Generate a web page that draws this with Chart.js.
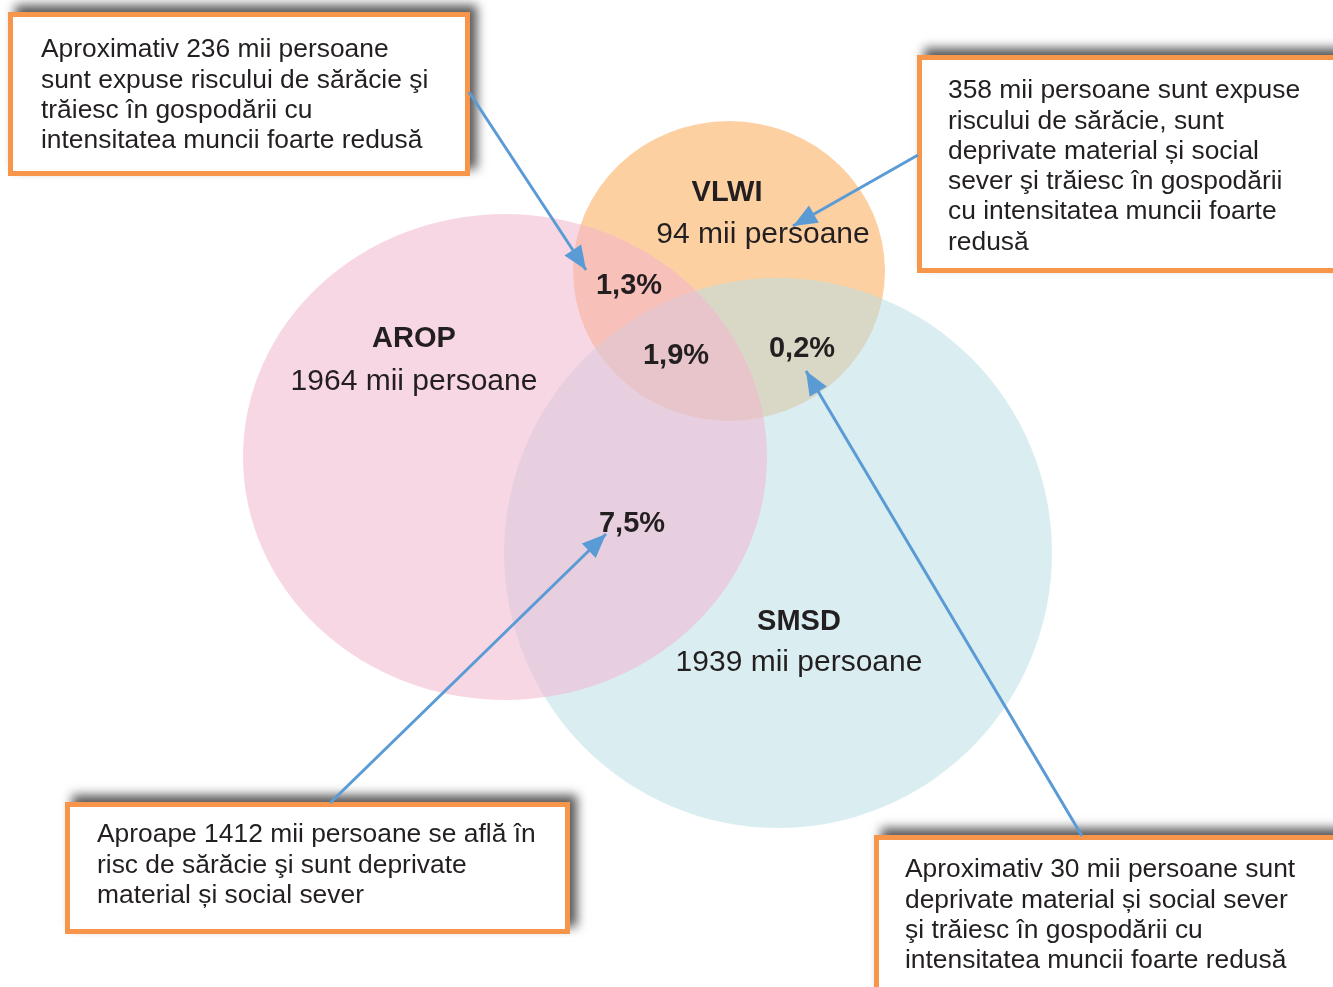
<!DOCTYPE html>
<html>
<head>
<meta charset="utf-8">
<script src="https://cdn.jsdelivr.net/npm/chart.js@4.4.1/dist/chart.umd.min.js"></script>
<style>
    html, body { margin: 0; padding: 0; background: #fff; font-family: "Liberation Sans", Arimo, Arial, sans-serif; }
    #wrap { width: 1333px; height: 987px; }
    .preload { position: absolute; left: -9999px; top: 0; font-family: "Liberation Sans"; }
</style>
</head>
<body>
<span class="preload">Aa <b>Bb</b></span>
<div id="wrap"><canvas id="vennChart" width="1333" height="987"></canvas></div>
<script>
// --- data ---
const setNames = ['AROP', 'VLWI', 'SMSD'];
const setValues = [1964, 94, 1939];            // mii persoane
const overlapNames = ['AROP+VLWI', 'AROP+VLWI+SMSD', 'VLWI+SMSD', 'AROP+SMSD'];
const overlapValues = [1.3, 1.9, 0.2, 7.5];    // %
const calloutTexts = [
    ['Aproximativ 236 mii persoane', 'sunt expuse riscului de sărăcie şi', 'trăiesc în gospodării cu', 'intensitatea muncii foarte redusă'],
    ['358 mii persoane sunt expuse', 'riscului de sărăcie, sunt', 'deprivate material și social', 'sever şi trăiesc în gospodării', 'cu intensitatea muncii foarte', 'redusă'],
    ['Aproape 1412 mii persoane se află în', 'risc de sărăcie şi sunt deprivate', 'material și social sever'],
    ['Aproximativ 30 mii persoane sunt', 'deprivate material și social sever', 'şi trăiesc în gospodării cu', 'intensitatea muncii foarte redusă']
];

// --- layout (page units, drawn through the chart scales) ---
const circles = [
    { cx: 505, cy: 457, rx: 262, ry: 243, color: 'rgba(242,181,207,0.54)' },   // AROP
    { cx: 729, cy: 271, rx: 156, ry: 150, color: '#fdd0a2' },                  // VLWI
    { cx: 778, cy: 553, rx: 274, ry: 275, color: 'rgba(186,224,229,0.54)' }    // SMSD
];
const drawOrder = [1, 2, 0];
const setLabelPos = [[414, 339, 382], [727, 193, 235], [799, 622, 663]];
const setValuePos = [414, 763, 799];
const overlapPos = [[629, 286], [676, 356], [802, 349], [632, 524]];
const boxes = [
    { x: 8, y: 12, w: 462, h: 164, tx: 41, ty: 50 },
    { x: 917, y: 55, w: 450, h: 218, tx: 948, ty: 91 },
    { x: 65, y: 802, w: 505, h: 132, tx: 97, ty: 835 },
    { x: 874, y: 835, w: 480, h: 180, tx: 905, ty: 870 }
];
const arrows = [
    [[469, 92], [586, 270]],
    [[918, 155], [793, 226]],
    [[330, 803], [606, 534]],
    [[1082, 836], [806, 371]]
];

const textColor = '#231f20';
const arrowColor = '#5b9bd5';
const fontFamily = '"Liberation Sans", Arimo, Arial, sans-serif';

function fmtPct(v) {
    return v.toFixed(1).replace('.', ',') + '%';
}

const vennPlugin = {
    id: 'venn',
    beforeDatasetsDraw(chart) {
        const ctx = chart.ctx;
        const xs = chart.scales.x, ys = chart.scales.y;
        const px = v => xs.getPixelForValue(v);
        const py = v => ys.getPixelForValue(v);

        // circles
        drawOrder.forEach(i => {
            const c = circles[i];
            ctx.save();
            ctx.fillStyle = c.color;
            ctx.beginPath();
            ctx.ellipse(px(c.cx), py(c.cy), Math.abs(px(c.cx + c.rx) - px(c.cx)), Math.abs(py(c.cy + c.ry) - py(c.cy)), 0, 0, Math.PI * 2);
            ctx.fill();
            ctx.restore();
        });

        // callout boxes
        boxes.forEach(b => {
            const x = px(b.x), y = py(b.y), w = px(b.x + b.w) - x, h = py(b.y + b.h) - y;
            ctx.save();
            ctx.shadowColor = 'rgba(0,0,0,0.65)';
            ctx.shadowBlur = 10;
            ctx.shadowOffsetX = 7;
            ctx.shadowOffsetY = -7;
            ctx.fillStyle = '#fff';
            ctx.fillRect(x, y, w, h);
            ctx.restore();
            ctx.save();
            ctx.strokeStyle = '#f7964a';
            ctx.lineWidth = 5;
            ctx.strokeRect(x + 2.5, y + 2.5, w - 5, h - 5);
            ctx.restore();
        });
    },
    afterDatasetsDraw(chart) {
        const ctx = chart.ctx;
        const xs = chart.scales.x, ys = chart.scales.y;
        const px = v => xs.getPixelForValue(v);
        const py = v => ys.getPixelForValue(v);

        // arrow heads
        chart.data.datasets.forEach((ds, i) => {
            const pts = chart.getDatasetMeta(i).data;
            const a = pts[0], b = pts[1];
            const ang = Math.atan2(b.y - a.y, b.x - a.x);
            const len = 24, half = 10;
            ctx.save();
            ctx.fillStyle = arrowColor;
            ctx.translate(b.x, b.y);
            ctx.rotate(ang);
            ctx.beginPath();
            ctx.moveTo(0, 0);
            ctx.lineTo(-len, -half);
            ctx.lineTo(-len, half);
            ctx.closePath();
            ctx.fill();
            ctx.restore();
        });

        ctx.save();
        ctx.fillStyle = textColor;
        ctx.textAlign = 'center';
        ctx.textBaseline = 'middle';

        // set names and sizes
        setNames.forEach((name, i) => {
            const p = setLabelPos[i];
            ctx.font = 'bold 29px ' + fontFamily;
            ctx.fillText(name, px(p[0]), py(p[1]));
            ctx.font = '30px ' + fontFamily;
            ctx.fillText(setValues[i] + ' mii persoane', px(setValuePos[i]), py(p[2]));
        });

        // overlap shares
        ctx.font = 'bold 29px ' + fontFamily;
        overlapValues.forEach((v, i) => {
            ctx.fillText(fmtPct(v), px(overlapPos[i][0]), py(overlapPos[i][1]));
        });

        // callout texts
        ctx.textAlign = 'left';
        ctx.font = '26.4px ' + fontFamily;
        calloutTexts.forEach((lines, i) => {
            const b = boxes[i];
            lines.forEach((line, j) => {
                ctx.fillText(line, px(b.tx), py(b.ty + j * 30.3));
            });
        });
        ctx.restore();
    }
};

function buildChart() {
    new Chart(document.getElementById('vennChart'), {
        type: 'scatter',
        data: {
            datasets: arrows.map((ar, i) => ({
                label: 'arrow ' + (i + 1),
                data: ar.map(p => ({ x: p[0], y: p[1] })),
                showLine: true,
                borderColor: arrowColor,
                borderWidth: 3,
                pointRadius: 0,
                fill: false
            }))
        },
        options: {
            responsive: false,
            animation: false,
            layout: { padding: 0 },
            plugins: {
                legend: { display: false },
                tooltip: { enabled: false },
                title: { display: false }
            },
            scales: {
                x: { type: 'linear', min: 0, max: 1333, display: false },
                y: { type: 'linear', min: 0, max: 987, reverse: true, display: false }
            },
            events: []
        },
        plugins: [vennPlugin]
    });
}

Promise.all([
    document.fonts.load('26px "Liberation Sans"'),
    document.fonts.load('bold 29px "Liberation Sans"')
]).then(buildChart, buildChart);
</script>
</body>
</html>
